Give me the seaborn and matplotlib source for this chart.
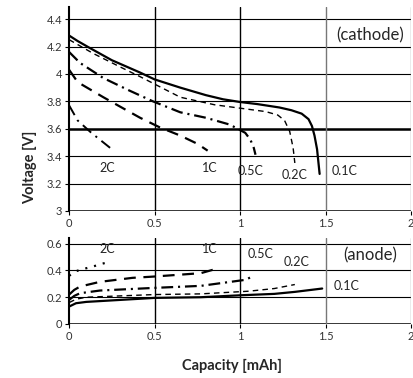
import numpy as np
import pandas as pd
import matplotlib
matplotlib.use('Agg')
import matplotlib.pyplot as plt
import seaborn as sns

# %% Datos

# catodo
cat_01_x = [0, 0.05, 0.12, 0.25, 0.415, 0.5, 0.65, 0.8, 0.9, 1.0, 1.1, 1.23, 1.3, 1.36, 1.40, 1.42, 1.435, 1.45, 1.465]
cat_01_y = [4.28, 4.24, 4.19, 4.10, 4.01, 3.96, 3.90, 3.845, 3.815, 3.795, 3.78, 3.755, 3.735, 3.71, 3.67, 3.62, 3.55, 3.45, 3.27]
cat_02_x = [0, 0.14, 0.3, 0.415, 0.65, 0.85, 1.0, 1.15, 1.22, 1.26, 1.29, 1.31, 1.32]
cat_02_y = [4.25, 4.15, 4.05, 3.98, 3.83, 3.775, 3.75, 3.725, 3.70, 3.66, 3.58, 3.46, 3.35]
cat_05_x = [0, 0.064, 0.2, 0.35, 0.49, 0.65, 0.8, 0.94, 1.03, 1.06, 1.08, 1.09]
cat_05_y = [4.16, 4.08, 3.97, 3.88, 3.80, 3.72, 3.68, 3.63, 3.57, 3.52, 3.46, 3.41]
cat_1_x = [0, 0.05, 0.2, 0.3, 0.415, 0.53, 0.65, 0.75, 0.81]
cat_1_y = [4.03, 3.94, 3.83, 3.76, 3.68, 3.61, 3.55, 3.49, 3.44]
cat_2_x = [0, 0.05, 0.13, 0.24]
cat_2_y = [3.77, 3.66, 3.57, 3.46]

# anodo
an_01_x = [0, 0.04, 0.1, 0.3, 0.5, 0.77, 1.01, 1.2, 1.32, 1.48]
an_01_y = [0.13, 0.155, 0.165, 0.18, 0.195, 0.20, 0.215, 0.225, 0.24, 0.265]
an_02_x = [0, 0.04, 0.1, 0.5, 0.77, 1.05, 1.2, 1.32]
an_02_y = [0.16, 0.185, 0.20, 0.22, 0.225, 0.245, 0.265, 0.295]
an_05_x = [0, 0.03, 0.064, 0.18, 0.5, 0.77, 1.03, 1.08]
an_05_y = [0.18, 0.21, 0.23, 0.25, 0.27, 0.285, 0.33, 0.36]
an_1_x = [0, 0.03, 0.064, 0.18, 0.37, 0.5, 0.77, 0.84]
an_1_y = [0.22, 0.255, 0.28, 0.315, 0.345, 0.355, 0.38, 0.405]
an_2_x = [0, 0.03, 0.064, 0.14, 0.19, 0.24]
an_2_y = [0.36, 0.39, 0.405, 0.43, 0.45, 0.465]

tasas = ['0.1C', '0.2C', '0.5C', '1C', '2C']

# etiquetas de las curvas (x, y)
lab_cat = {'2C': (0.22, 3.31), '1C': (0.82, 3.31), '0.5C': (1.06, 3.29),
           '0.2C': (1.32, 3.26), '0.1C': (1.61, 3.29)}
lab_an = {'2C': (0.22, 0.56), '1C': (0.82, 0.56), '0.5C': (1.12, 0.52),
          '0.2C': (1.33, 0.465), '0.1C': (1.62, 0.285)}

# %% Estilos
sns.set_style('white')
plt.rcParams['font.family'] = ['Lato', 'DejaVu Sans']
plt.rcParams['lines.scale_dashes'] = False

estilos = {
    '0.1C': dict(lw=1.6, ls='-'),
    '0.2C': dict(lw=1.0, ls=(0, (4.0, 3.0))),
    '0.5C': dict(lw=1.6, ls=(0, (8.5, 3.5, 1.5, 3.5))),
    '1C':   dict(lw=1.6, ls=(0, (8.5, 5.5))),
    '2C':   dict(lw=1.4, ls=(0, (8.0, 4.0, 1.5, 4.0))),
}
estilos_an = dict(estilos)
estilos_an['2C'] = dict(lw=1.6, ls=(0, (1.5, 5.0)))

cat = {'0.1C': (cat_01_x, cat_01_y), '0.2C': (cat_02_x, cat_02_y),
       '0.5C': (cat_05_x, cat_05_y), '1C': (cat_1_x, cat_1_y), '2C': (cat_2_x, cat_2_y)}
an = {'0.1C': (an_01_x, an_01_y), '0.2C': (an_02_x, an_02_y),
      '0.5C': (an_05_x, an_05_y), '1C': (an_1_x, an_1_y), '2C': (an_2_x, an_2_y)}

fig = plt.figure(figsize=(4.14, 3.78), dpi=100)
ax1 = fig.add_axes([0.167, 0.442, 0.826, 0.54])
ax2 = fig.add_axes([0.167, 0.143, 0.826, 0.228])


def formato(ax, yticks, ylim, base_thick):
    ax.set_xlim(0, 2)
    ax.set_ylim(*ylim)
    ax.set_xticks([0, 0.5, 1, 1.5, 2])
    ax.set_xticklabels(['0', '0.5', '1', '1.5', '2'])
    ax.set_yticks(yticks)
    ax.set_yticklabels([f'{v:g}' for v in yticks])
    for s in ['top', 'right', 'bottom']:
        ax.spines[s].set_visible(False)
    ax.spines['left'].set_color('k')
    ax.spines['left'].set_linewidth(1.5)
    for v in yticks:
        ax.axhline(v, color='k', lw=0.8, zorder=1)
    ax.axhline(ylim[0], color='k', lw=1.8, zorder=1)
    for v in base_thick:
        ax.axhline(v, color='k', lw=1.8, zorder=1)
    for v, c in [(0.5, 'k'), (1, 'k'), (1.5, '#777777'), (2, '#999999')]:
        ax.axvline(v, color=c, lw=1.0, zorder=1)
    ax.tick_params(axis='both', labelsize=8, length=3, width=0.8,
                   direction='out', left=True, bottom=True, pad=2,
                   colors='k', labelcolor='#333333')


formato(ax1, [3, 3.2, 3.4, 3.6, 3.8, 4, 4.2, 4.4], (3, 4.49), [3.6])
formato(ax2, [0, 0.2, 0.4, 0.6], (0, 0.645), [])

for t in tasas:
    x, y = cat[t]
    sns.lineplot(x=x, y=y, ax=ax1, color='k', linewidth=estilos[t]['lw'],
                 linestyle=estilos[t]['ls'], zorder=3)
    ax1.text(*lab_cat[t], t, fontsize=9, ha='center', va='center', color='#222222')
    x, y = an[t]
    sns.lineplot(x=x, y=y, ax=ax2, color='k', linewidth=estilos_an[t]['lw'],
                 linestyle=estilos_an[t]['ls'], zorder=3)
    ax2.text(*lab_an[t], t, fontsize=9, ha='center', va='center', color='#222222')

ax1.text(1.76, 4.28, '(cathode)', fontsize=12, ha='center', va='center')
ax2.text(1.76, 0.51, '(anode)', fontsize=12, ha='center', va='center')

fig.text(0.072, 0.558, 'Voltage [V]', rotation=90, fontsize=10.5, fontweight='bold',
         ha='center', va='center')
fig.text(0.56, 0.032, 'Capacity [mAh]', fontsize=10.5, fontweight='bold',
         ha='center', va='center')

fig.savefig('out.png', dpi=100)
